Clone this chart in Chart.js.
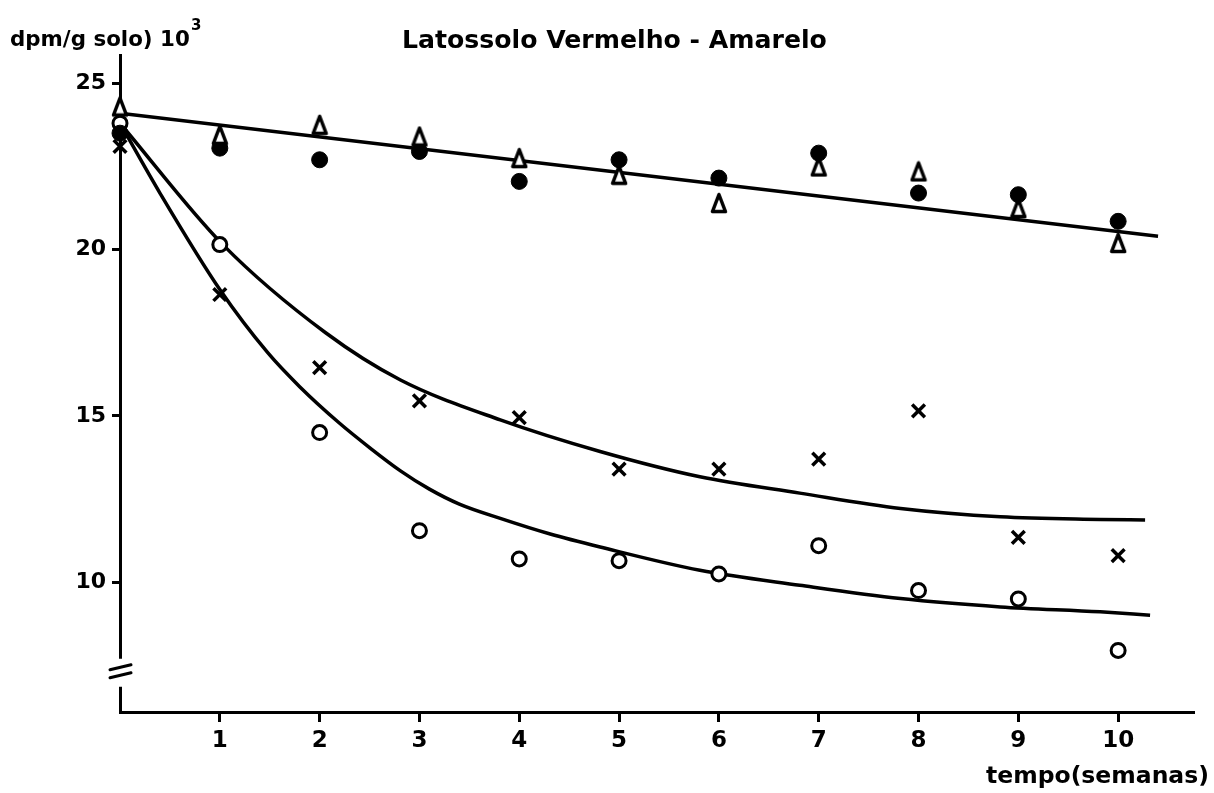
<!DOCTYPE html>
<html>
<head>
<meta charset="utf-8">
<script src="https://cdn.jsdelivr.net/npm/chart.js@4.4.1/dist/chart.umd.min.js"></script>
<style>
  html, body { margin: 0; padding: 0; background: #fff; }
  #grafico { display: block; }
</style>
</head>
<body>
<canvas id="grafico" width="1214" height="793"></canvas>
<script>
// tempo (semanas)
const semanas = [0, 1, 2, 3, 4, 5, 6, 7, 8, 9, 10];

// dpm/g solo x 10^3
const triangulos      = [24.3, 23.45, 23.75, 23.4, 22.75, 22.25, 21.4, 22.5, 22.35, 21.25, 20.2];
const circulosCheios  = [23.5, 23.05, 22.7, 22.95, 22.05, 22.7, 22.15, 22.9, 21.7, 21.65, 20.85];
const cruzes          = [23.1, 18.65, 16.45, 15.45, 14.95, 13.4, 13.4, 13.7, 15.15, 11.35, 10.8];
const circulosAbertos = [23.8, 20.15, 14.5, 11.55, 10.7, 10.65, 10.25, 11.1, 9.75, 9.5, 7.95];

// curvas desenhadas a mao (pontos lidos sobre o traco)
const retaT = [0, 10.4];
const retaV = [24.1, 20.4];
const curvaSupT = [0, 1.03, 2.06, 2.81, 3.81, 4.81, 5.81, 6.81, 7.82, 8.82, 9.82, 10.27];
const curvaSupV = [23.8, 20.15, 17.5, 16.08, 14.88, 13.93, 13.17, 12.68, 12.22, 11.97, 11.89, 11.87];
const curvaInfT = [0, 0.4, 1.0, 1.48, 1.8, 2.2, 2.5, 2.81, 3.1, 3.4, 3.81, 4.31, 4.81, 5.81, 6.81, 7.82, 8.82, 9.82, 10.32];
const curvaInfV = [23.8, 21.7, 18.8, 16.9, 15.88, 14.78, 14.05, 13.35, 12.8, 12.35, 11.92, 11.45, 11.06, 10.36, 9.91, 9.51, 9.26, 9.11, 9.01];

const ticksX = [1, 2, 3, 4, 5, 6, 7, 8, 9, 10];
const ticksY = [10, 15, 20, 25];
const quebraY = 7.4; // onde o eixo y e interrompido

const fonte = '"DejaVu Sans", sans-serif';

function pares(xs, ys) {
  return xs.map((x, i) => ({ x: x, y: ys[i] }));
}

// triangulo aberto, mais alto que largo
function trianguloAberto() {
  const c = document.createElement('canvas');
  c.width = 18; c.height = 22;
  const g = c.getContext('2d');
  g.lineWidth = 3.5; g.lineJoin = 'round';
  g.strokeStyle = '#000'; g.fillStyle = '#fff';
  g.beginPath();
  g.moveTo(9, 2.5); g.lineTo(15.5, 19.5); g.lineTo(2.5, 19.5);
  g.closePath(); g.fill(); g.stroke();
  return c;
}

function curva(xs, ys) {
  return {
    type: 'line', data: pares(xs, ys), showLine: true,
    borderColor: '#000', borderWidth: 3.5, pointRadius: 0,
    cubicInterpolationMode: 'monotone', fill: false, order: 1
  };
}

function pontos(ys, estilo) {
  return Object.assign({
    type: 'scatter', data: pares(semanas, ys), showLine: false,
    borderColor: '#000', order: 0, clip: false
  }, estilo);
}

function ajustarFonte(ctx, texto, largura, peso) {
  ctx.font = peso + ' 20px ' + fonte;
  const tam = 20 * largura / ctx.measureText(texto).width;
  ctx.font = peso + ' ' + tam + 'px ' + fonte;
}

const textos = {
  id: 'textos',
  afterDraw(chart) {
    const ctx = chart.ctx;
    const y = chart.scales.y;
    const esq = chart.chartArea.left;
    ctx.save();
    // quebra do eixo y
    const py = y.getPixelForValue(quebraY);
    ctx.fillStyle = '#fff';
    ctx.fillRect(esq - 4, py - 10, 8, 28);
    ctx.strokeStyle = '#000'; ctx.lineWidth = 3; ctx.lineCap = 'round';
    ctx.beginPath();
    ctx.moveTo(esq - 10, py + 1); ctx.lineTo(esq + 11, py - 4);
    ctx.moveTo(esq - 10, py + 9); ctx.lineTo(esq + 11, py + 4);
    ctx.stroke();

    ctx.fillStyle = '#000';
    ctx.textBaseline = 'alphabetic';
    ctx.textAlign = 'left';
    // titulo
    ajustarFonte(ctx, 'Latossolo Vermelho - Amarelo', 425, 'bold');
    ctx.fillText('Latossolo Vermelho - Amarelo', 402, 48);
    // rotulo y
    ajustarFonte(ctx, 'dpm/g solo) 10', 180, 'bold');
    ctx.fillText('dpm/g solo) 10', 10, 46);
    ctx.font = 'bold 15px ' + fonte;
    ctx.fillText('3', 191, 30);
    // rotulo x
    ajustarFonte(ctx, 'tempo(semanas)', 223, 'bold');
    ctx.fillText('tempo(semanas)', 986, 783);
    ctx.restore();
  }
};

new Chart(document.getElementById('grafico'), {
  type: 'scatter',
  data: {
    datasets: [
      curva(retaT, retaV),
      curva(curvaSupT, curvaSupV),
      curva(curvaInfT, curvaInfV),
      pontos(triangulos, { pointStyle: trianguloAberto(), pointRadius: 9 }),
      pontos(circulosCheios, { pointStyle: 'circle', pointRadius: 8, backgroundColor: '#000', borderWidth: 1 }),
      pontos(cruzes, { pointStyle: 'crossRot', pointRadius: 9, borderWidth: 3.5 }),
      pontos(circulosAbertos, { pointStyle: 'circle', pointRadius: 7, backgroundColor: '#fff', borderWidth: 3 })
    ]
  },
  options: {
    responsive: false,
    animation: false,
    events: [],
    layout: { padding: { top: 55, right: 21, left: 0, bottom: 0 } },
    plugins: { legend: { display: false }, tooltip: { enabled: false } },
    scales: {
      x: {
        type: 'linear', min: 0, max: 10.75,
        afterBuildTicks: s => { s.ticks = ticksX.map(v => ({ value: v })); },
        afterFit: s => { s.height = 81; },
        grid: { drawOnChartArea: false, drawTicks: true, tickLength: 10, color: '#000', lineWidth: 3 },
        border: { display: true, color: '#000', width: 3 },
        ticks: { color: '#000', padding: 5, maxRotation: 0, font: { family: fonte, size: 23, weight: 'bold' } }
      },
      y: {
        type: 'linear', min: 6.1, max: 25.85,
        afterBuildTicks: s => { s.ticks = ticksY.map(v => ({ value: v })); },
        afterFit: s => { s.width = 120; },
        grid: { drawOnChartArea: false, drawTicks: true, tickLength: 8, color: '#000', lineWidth: 3 },
        border: { display: true, color: '#000', width: 3 },
        ticks: { color: '#000', padding: 6, font: { family: fonte, size: 22, weight: 'bold' } }
      }
    }
  },
  plugins: [textos]
});
</script>
</body>
</html>
